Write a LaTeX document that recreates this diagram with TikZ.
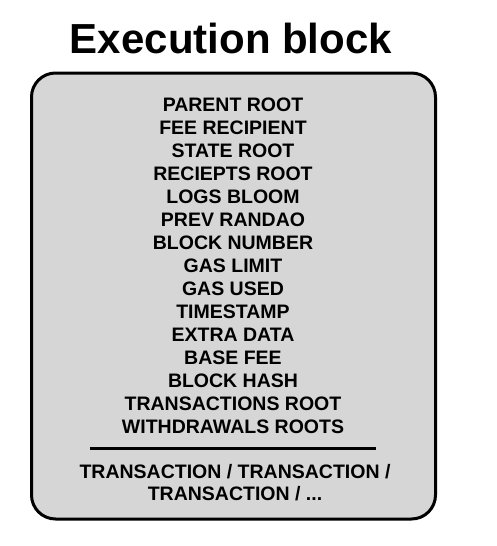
\documentclass[tikz,border=0pt]{standalone}
\usepackage{fontspec}
\setmainfont{Liberation Sans}
\usetikzlibrary{positioning, calc}

\definecolor{boxgray}{RGB}{214,214,214}

\begin{document}
\begin{tikzpicture}[x=1pt, y=-1pt,
  field/.style={anchor=base, font=\fontsize{19.5}{22}\selectfont\bfseries},
  block/.style={draw, line width=3pt, fill=boxgray, rounded corners=24pt}]
  \useasboundingbox (0,0) rectangle (497,546);

  \node[anchor=base, font=\fontsize{42}{50}\selectfont\bfseries] (title) at (231,53) {Execution block};

  \node[block, minimum width=404pt, minimum height=446pt] (box) at (233.5,296) {};

  \foreach \fld [count=\i from 0] in {PARENT ROOT, FEE RECIPIENT, STATE ROOT,
    RECIEPTS ROOT, LOGS BLOOM, PREV RANDAO, BLOCK NUMBER, GAS LIMIT, GAS USED,
    TIMESTAMP, EXTRA DATA, BASE FEE, BLOCK HASH, TRANSACTIONS ROOT,
    WITHDRAWALS ROOTS}
    \node[field] (f\i) at (233,{111+23*\i}) {\fld};

  \coordinate (sepl) at (90,448);
  \coordinate (sepr) at (376,448);
  \draw[line width=3pt] (sepl) -- (sepr);

  \node[field] (tx1) at (235,478) {TRANSACTION / TRANSACTION /};
  \node[field] (tx2) at (235,500) {TRANSACTION / ...};
\end{tikzpicture}
\end{document}
